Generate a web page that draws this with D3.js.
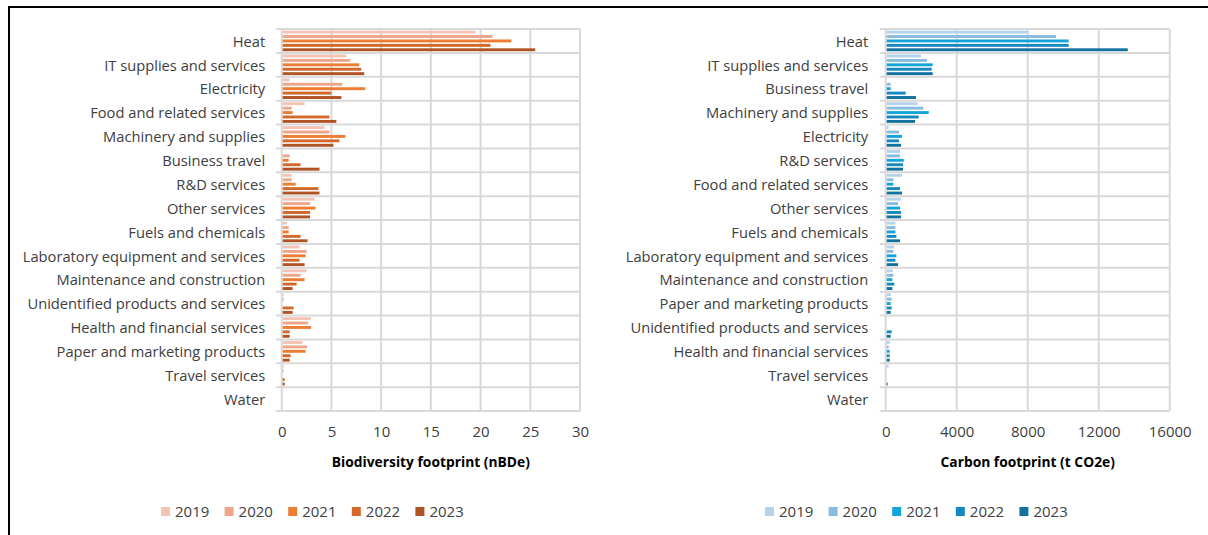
<!DOCTYPE html>
<html>
<head>
<meta charset="utf-8">
<script src="https://cdn.jsdelivr.net/npm/d3@7"></script>
<style>
  html, body { margin: 0; padding: 0; background: #fff; }
  svg { display: block; font-family: "Open Sans", "Liberation Sans", Arial, sans-serif; }
</style>
</head>
<body>
<svg id="chart" width="1208" height="535"></svg>
<script>
// ---------- DATA ----------
const years = ["2019", "2020", "2021", "2022", "2023"];

const bioCategories = ["Heat", "IT supplies and services", "Electricity", "Food and related services",
  "Machinery and supplies", "Business travel", "R&D services", "Other services", "Fuels and chemicals",
  "Laboratory equipment and services", "Maintenance and construction", "Unidentified products and services",
  "Health and financial services", "Paper and marketing products", "Travel services", "Water"];

// biodiversity footprint (nBDe), one array per year, in category order
const bio2019 = [19.4, 6.4, 0.7, 2.2, 4.2, 0.0, 0.9, 3.2, 0.4, 1.7, 2.4, 0.1, 2.85, 2.0, 0.1, 0];
const bio2020 = [21.1, 6.8, 6.0, 0.9, 4.7, 0.7, 0.9, 2.75, 0.6, 2.4, 1.8, 0.1, 2.55, 2.45, 0.1, 0];
const bio2021 = [23.0, 7.7, 8.3, 1.0, 6.3, 0.6, 1.3, 3.3, 0.6, 2.3, 2.2, 0.0, 2.85, 2.3, 0.0, 0];
const bio2022 = [20.9, 7.9, 4.9, 4.7, 5.7, 1.8, 3.6, 2.75, 1.8, 1.7, 1.4, 1.1, 0.7, 0.8, 0.2, 0];
const bio2023 = [25.4, 8.2, 5.9, 5.4, 5.1, 3.7, 3.7, 2.75, 2.5, 2.2, 1.0, 1.0, 0.7, 0.7, 0.2, 0];
const bioTicks = [0, 5, 10, 15, 20, 25, 30];

const carbonCategories = ["Heat", "IT supplies and services", "Business travel", "Machinery and supplies",
  "Electricity", "R&D services", "Food and related services", "Other services", "Fuels and chemicals",
  "Laboratory equipment and services", "Maintenance and construction", "Paper and marketing products",
  "Unidentified products and services", "Health and financial services", "Travel services", "Water"];

// carbon footprint (t CO2e), one array per year, in category order
const co2019 = [7980, 1935, 0, 1750, 110, 750, 865, 810, 490, 430, 340, 225, 0, 170, 110, 0];
const co2020 = [9540, 2270, 225, 2065, 695, 750, 375, 640, 490, 375, 375, 280, 0, 110, 0, 0];
const co2021 = [10250, 2590, 225, 2370, 865, 960, 375, 750, 490, 545, 320, 225, 0, 170, 0, 0];
const co2022 = [10250, 2535, 1070, 1800, 695, 920, 750, 810, 545, 490, 430, 280, 280, 170, 0, 0];
const co2023 = [13580, 2590, 1650, 1600, 810, 920, 865, 810, 750, 640, 320, 225, 225, 170, 55, 0];
const carbonTicks = [0, 4000, 8000, 12000, 16000];

const bioColors = ["#F4C3B3", "#EFA58A", "#ED7D31", "#D2692B", "#B05425"];
const carbonColors = ["#B6D3EC", "#88BBE0", "#14A4DC", "#1689BE", "#12729F"];

// ---------- DRAW ----------
const svg = d3.select("#chart");
const FONT = "'Open Sans', 'Liberation Sans', Arial, sans-serif";

// outer frame
svg.append("path")
  .attr("d", "M9,540 L9,7 L1215,7")
  .attr("fill", "none").attr("stroke", "#000").attr("stroke-width", 2);

function drawPanel(opts) {
  const { cats, series, colors, ticks, domainMax, x0, x1, y0, y1, title, legendX, tickFmt, labelGap } = opts;
  const g = svg.append("g");
  const x = d3.scaleLinear().domain([0, domainMax]).range([x0, x1]);
  const y = d3.scaleBand().domain(cats).range([y0, y1]).padding(0);
  const inner = d3.scaleBand().domain(years).range([1.2, y.bandwidth() - 1.2]).paddingInner(0.34).paddingOuter(0.1);

  // horizontal row separators (with small tick stubs to the left)
  const seps = cats.map(c => y(c)).concat([y1]);
  g.selectAll("line.h").data(seps).join("line")
    .attr("x1", x0 - 6).attr("x2", x1)
    .attr("y1", d => d).attr("y2", d => d)
    .attr("stroke", "#D9D9D9").attr("stroke-width", 2);

  // vertical gridlines
  g.selectAll("line.v").data(ticks).join("line")
    .attr("x1", d => x(d)).attr("x2", d => x(d))
    .attr("y1", y0).attr("y2", y1)
    .attr("stroke", "#D9D9D9").attr("stroke-width", 2);

  // bars
  years.forEach((yr, i) => {
    const vals = series[i];
    g.append("g").selectAll("rect").data(cats.map((c, j) => ({ c, v: vals[j] })).filter(d => d.v > 0))
      .join("rect")
      .attr("x", x(0) + 1)
      .attr("y", d => y(d.c) + inner(yr))
      .attr("width", d => Math.max(0.8, x(d.v) - x(0)))
      .attr("height", inner.bandwidth())
      .attr("fill", colors[i]);
  });

  // category labels
  const yAxis = d3.axisLeft(y).tickSize(0).tickPadding(0);
  const ya = g.append("g").attr("transform", `translate(${x0 - labelGap},1)`).call(yAxis);
  ya.select(".domain").remove();
  ya.selectAll("text").attr("font-size", 14.7).attr("fill", "#404040").attr("font-family", FONT);

  // x tick labels
  const xAxis = d3.axisBottom(x).tickValues(ticks).tickSize(0).tickPadding(0).tickFormat(tickFmt);
  const xa = g.append("g").attr("transform", `translate(0,${y1 + 15})`).call(xAxis);
  xa.select(".domain").remove();
  xa.selectAll("text").attr("font-size", 15).attr("fill", "#404040").attr("font-family", FONT);

  // axis title
  g.append("text")
    .attr("x", (x0 + x1) / 2).attr("y", y1 + 56)
    .attr("text-anchor", "middle").attr("font-size", 13.8).attr("font-weight", "bold").attr("fill", "#000")
    .attr("font-family", FONT)
    .text(title);

  // legend
  const lg = g.append("g").attr("transform", `translate(${legendX},512)`);
  const item = lg.selectAll("g").data(years).join("g")
    .attr("transform", (d, i) => `translate(${i * 63.6},0)`);
  item.append("rect").attr("x", 0).attr("y", -5).attr("width", 9).attr("height", 9)
    .attr("fill", (d, i) => colors[i]);
  item.append("text").attr("x", 14).attr("y", 0).attr("dy", "0.35em")
    .attr("font-size", 15).attr("fill", "#404040").attr("font-family", FONT).text(d => d);
}

drawPanel({
  cats: bioCategories,
  series: [bio2019, bio2020, bio2021, bio2022, bio2023],
  colors: bioColors, ticks: bioTicks, domainMax: 30,
  x0: 281.7, x1: 580, y0: 29, y1: 411,
  title: "Biodiversity footprint (nBDe)", legendX: 161,
  tickFmt: d3.format("d"), labelGap: 16.5
});

drawPanel({
  cats: carbonCategories,
  series: [co2019, co2020, co2021, co2022, co2023],
  colors: carbonColors, ticks: carbonTicks, domainMax: 16000,
  x0: 885.7, x1: 1169.7, y0: 29, y1: 411,
  title: "Carbon footprint (t CO2e)", legendX: 765,
  tickFmt: d3.format("d"), labelGap: 17.5
});
</script>
</body>
</html>
